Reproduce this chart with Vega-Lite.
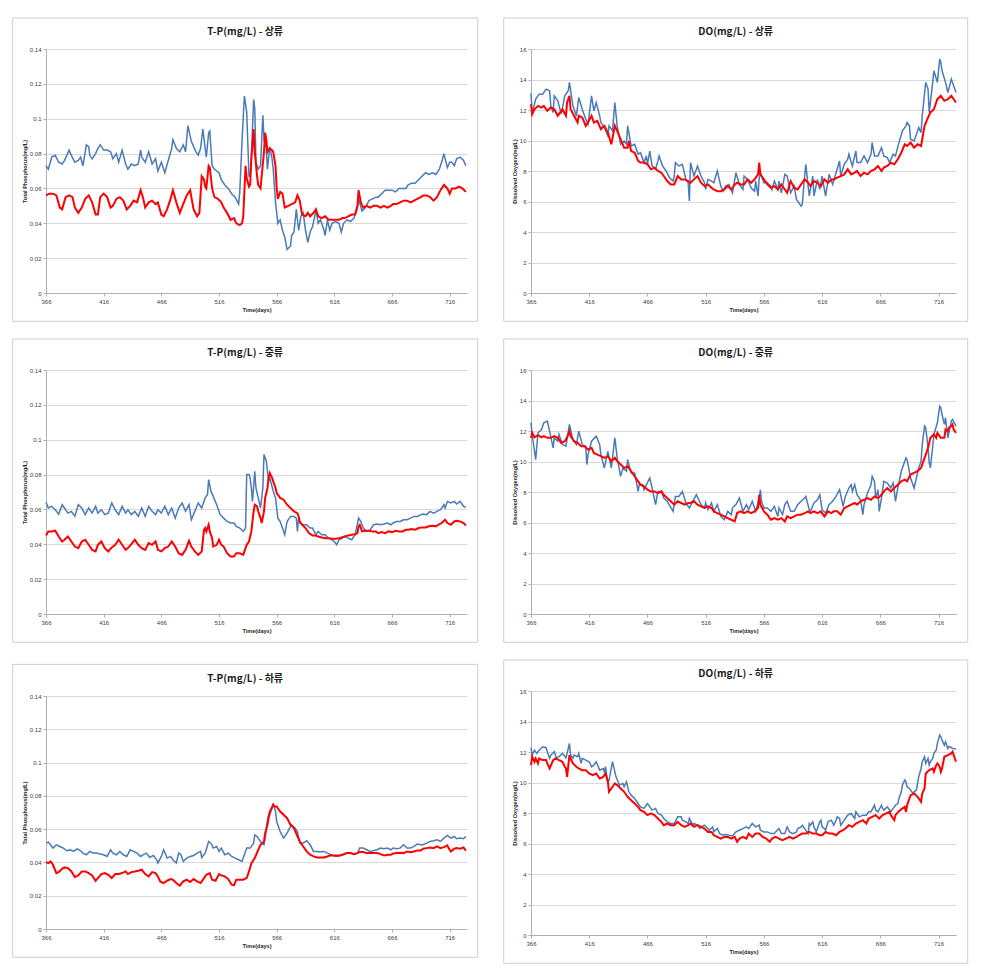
{
"$schema": "https://vega.github.io/schema/vega-lite/v6.json",
"padding": {"left": 12, "top": 17, "right": 5, "bottom": 5},
"background": "white",
"config": {
  "view": {"stroke": null},
  "font": "Liberation Sans",
  "axis": {"labelFont": "Liberation Sans", "labelFontSize": 6, "labelColor": "#404040", "titleFont": "Liberation Sans", "titleFontSize": 5.5, "titleFontWeight": "bold", "titleColor": "#262626", "domainColor": "#b0b0b0", "tickColor": "#b0b0b0", "tickSize": 3, "labelPadding": 2, "gridColor": "#d9d9d9", "labelFlush": false},
  "axisX": {"grid": false, "titlePadding": 3, "labelAngle": 0},
  "axisY": {"grid": true, "titlePadding": 1.5},
  "title": {"font": "Noto Sans CJK KR", "fontSize": 10, "fontWeight": "bold", "color": "#1a1a1a", "offset": -20, "anchor": "middle", "frame": "bounds"}
},
"datasets": {
"tpUpObs": [{"t":366,"v":0.073},{"t":368,"v":0.071},{"t":371,"v":0.078},{"t":374,"v":0.079},{"t":377,"v":0.075},{"t":380,"v":0.074},{"t":382,"v":0.076},{"t":386,"v":0.082},{"t":388,"v":0.079},{"t":391,"v":0.075},{"t":394,"v":0.076},{"t":396,"v":0.078},{"t":398,"v":0.073},{"t":401,"v":0.085},{"t":403,"v":0.084},{"t":404,"v":0.079},{"t":406,"v":0.077},{"t":409,"v":0.080},{"t":411,"v":0.083},{"t":413,"v":0.085},{"t":416,"v":0.082},{"t":419,"v":0.082},{"t":422,"v":0.081},{"t":424,"v":0.077},{"t":427,"v":0.080},{"t":429,"v":0.075},{"t":432,"v":0.082},{"t":435,"v":0.074},{"t":437,"v":0.071},{"t":440,"v":0.074},{"t":443,"v":0.073},{"t":446,"v":0.074},{"t":448,"v":0.082},{"t":449,"v":0.078},{"t":452,"v":0.075},{"t":455,"v":0.081},{"t":458,"v":0.074},{"t":461,"v":0.077},{"t":463,"v":0.070},{"t":466,"v":0.075},{"t":469,"v":0.069},{"t":472,"v":0.076},{"t":475,"v":0.083},{"t":476,"v":0.088},{"t":479,"v":0.083},{"t":482,"v":0.081},{"t":485,"v":0.085},{"t":487,"v":0.081},{"t":489,"v":0.096},{"t":492,"v":0.087},{"t":494,"v":0.084},{"t":496,"v":0.081},{"t":498,"v":0.079},{"t":500,"v":0.083},{"t":502,"v":0.094},{"t":504,"v":0.083},{"t":505,"v":0.078},{"t":507,"v":0.092},{"t":508,"v":0.093},{"t":510,"v":0.073},{"t":512,"v":0.071},{"t":516,"v":0.069},{"t":518,"v":0.065},{"t":521,"v":0.062},{"t":524,"v":0.060},{"t":527,"v":0.057},{"t":530,"v":0.055},{"t":533,"v":0.051},{"t":534,"v":0.058},{"t":536,"v":0.088},{"t":538,"v":0.113},{"t":540,"v":0.104},{"t":542,"v":0.067},{"t":543,"v":0.067},{"t":544,"v":0.077},{"t":546,"v":0.111},{"t":547,"v":0.106},{"t":548,"v":0.075},{"t":550,"v":0.071},{"t":552,"v":0.073},{"t":554,"v":0.102},{"t":555,"v":0.088},{"t":557,"v":0.083},{"t":558,"v":0.071},{"t":560,"v":0.084},{"t":562,"v":0.077},{"t":563,"v":0.071},{"t":565,"v":0.052},{"t":567,"v":0.040},{"t":569,"v":0.042},{"t":571,"v":0.036},{"t":573,"v":0.032},{"t":575,"v":0.025},{"t":578,"v":0.027},{"t":579,"v":0.033},{"t":581,"v":0.035},{"t":583,"v":0.048},{"t":585,"v":0.036},{"t":587,"v":0.044},{"t":589,"v":0.046},{"t":591,"v":0.036},{"t":593,"v":0.029},{"t":595,"v":0.035},{"t":597,"v":0.038},{"t":599,"v":0.044},{"t":600,"v":0.048},{"t":602,"v":0.040},{"t":604,"v":0.042},{"t":607,"v":0.036},{"t":608,"v":0.033},{"t":610,"v":0.042},{"t":612,"v":0.036},{"t":614,"v":0.040},{"t":617,"v":0.041},{"t":620,"v":0.040},{"t":622,"v":0.035},{"t":624,"v":0.040},{"t":627,"v":0.042},{"t":630,"v":0.041},{"t":633,"v":0.043},{"t":636,"v":0.049},{"t":637,"v":0.054},{"t":640,"v":0.047},{"t":643,"v":0.049},{"t":646,"v":0.053},{"t":649,"v":0.054},{"t":652,"v":0.055},{"t":654,"v":0.055},{"t":657,"v":0.057},{"t":660,"v":0.059},{"t":663,"v":0.059},{"t":666,"v":0.059},{"t":669,"v":0.058},{"t":672,"v":0.060},{"t":675,"v":0.060},{"t":678,"v":0.060},{"t":680,"v":0.062},{"t":683,"v":0.063},{"t":686,"v":0.063},{"t":689,"v":0.065},{"t":692,"v":0.067},{"t":695,"v":0.069},{"t":698,"v":0.068},{"t":701,"v":0.069},{"t":704,"v":0.068},{"t":707,"v":0.071},{"t":709,"v":0.075},{"t":711,"v":0.080},{"t":712,"v":0.077},{"t":714,"v":0.072},{"t":716,"v":0.075},{"t":718,"v":0.075},{"t":720,"v":0.073},{"t":722,"v":0.077},{"t":725,"v":0.078},{"t":728,"v":0.076},{"t":730,"v":0.073}],
"tpUpSim": [{"t":366,"v":0.056},{"t":369,"v":0.057},{"t":372,"v":0.057},{"t":375,"v":0.056},{"t":378,"v":0.049},{"t":380,"v":0.048},{"t":383,"v":0.055},{"t":386,"v":0.056},{"t":389,"v":0.055},{"t":391,"v":0.049},{"t":394,"v":0.046},{"t":397,"v":0.049},{"t":400,"v":0.054},{"t":403,"v":0.056},{"t":406,"v":0.052},{"t":409,"v":0.045},{"t":411,"v":0.045},{"t":413,"v":0.055},{"t":416,"v":0.057},{"t":419,"v":0.055},{"t":422,"v":0.049},{"t":424,"v":0.050},{"t":427,"v":0.054},{"t":430,"v":0.055},{"t":433,"v":0.053},{"t":436,"v":0.048},{"t":439,"v":0.050},{"t":442,"v":0.053},{"t":445,"v":0.052},{"t":448,"v":0.059},{"t":450,"v":0.055},{"t":452,"v":0.049},{"t":455,"v":0.052},{"t":458,"v":0.053},{"t":461,"v":0.051},{"t":463,"v":0.052},{"t":466,"v":0.045},{"t":468,"v":0.044},{"t":471,"v":0.048},{"t":474,"v":0.054},{"t":476,"v":0.059},{"t":479,"v":0.052},{"t":482,"v":0.046},{"t":485,"v":0.051},{"t":488,"v":0.056},{"t":491,"v":0.059},{"t":492,"v":0.055},{"t":494,"v":0.048},{"t":497,"v":0.044},{"t":499,"v":0.046},{"t":501,"v":0.067},{"t":503,"v":0.065},{"t":504,"v":0.061},{"t":505,"v":0.060},{"t":507,"v":0.073},{"t":508,"v":0.072},{"t":510,"v":0.060},{"t":512,"v":0.055},{"t":515,"v":0.054},{"t":518,"v":0.052},{"t":520,"v":0.049},{"t":523,"v":0.046},{"t":526,"v":0.042},{"t":529,"v":0.043},{"t":531,"v":0.040},{"t":534,"v":0.039},{"t":536,"v":0.040},{"t":537,"v":0.044},{"t":539,"v":0.073},{"t":540,"v":0.066},{"t":542,"v":0.061},{"t":543,"v":0.062},{"t":544,"v":0.077},{"t":546,"v":0.094},{"t":547,"v":0.081},{"t":549,"v":0.067},{"t":550,"v":0.062},{"t":552,"v":0.060},{"t":553,"v":0.067},{"t":555,"v":0.081},{"t":556,"v":0.092},{"t":557,"v":0.088},{"t":558,"v":0.081},{"t":560,"v":0.083},{"t":562,"v":0.082},{"t":563,"v":0.081},{"t":565,"v":0.073},{"t":566,"v":0.060},{"t":567,"v":0.054},{"t":569,"v":0.058},{"t":571,"v":0.057},{"t":573,"v":0.049},{"t":576,"v":0.050},{"t":579,"v":0.051},{"t":582,"v":0.052},{"t":584,"v":0.056},{"t":586,"v":0.053},{"t":588,"v":0.045},{"t":591,"v":0.044},{"t":593,"v":0.046},{"t":595,"v":0.044},{"t":598,"v":0.046},{"t":600,"v":0.048},{"t":602,"v":0.044},{"t":605,"v":0.043},{"t":608,"v":0.044},{"t":611,"v":0.042},{"t":614,"v":0.042},{"t":617,"v":0.042},{"t":620,"v":0.042},{"t":623,"v":0.043},{"t":625,"v":0.043},{"t":628,"v":0.044},{"t":631,"v":0.045},{"t":634,"v":0.045},{"t":636,"v":0.050},{"t":637,"v":0.059},{"t":639,"v":0.052},{"t":641,"v":0.049},{"t":644,"v":0.050},{"t":647,"v":0.049},{"t":650,"v":0.050},{"t":653,"v":0.050},{"t":656,"v":0.049},{"t":659,"v":0.050},{"t":662,"v":0.049},{"t":665,"v":0.050},{"t":667,"v":0.051},{"t":670,"v":0.051},{"t":673,"v":0.052},{"t":676,"v":0.053},{"t":679,"v":0.053},{"t":682,"v":0.052},{"t":685,"v":0.053},{"t":688,"v":0.054},{"t":691,"v":0.055},{"t":693,"v":0.056},{"t":696,"v":0.056},{"t":699,"v":0.055},{"t":702,"v":0.053},{"t":705,"v":0.055},{"t":708,"v":0.059},{"t":711,"v":0.062},{"t":714,"v":0.060},{"t":716,"v":0.057},{"t":718,"v":0.060},{"t":721,"v":0.060},{"t":724,"v":0.061},{"t":727,"v":0.060},{"t":730,"v":0.058}],
"doUpObs": [{"t":366,"v":13.10},{"t":367,"v":11.73},{"t":370,"v":12.71},{"t":373,"v":13.04},{"t":376,"v":13.04},{"t":379,"v":13.37},{"t":382,"v":13.26},{"t":383,"v":12.27},{"t":385,"v":11.84},{"t":386,"v":12.93},{"t":389,"v":12.60},{"t":392,"v":11.73},{"t":395,"v":12.93},{"t":398,"v":13.26},{"t":399,"v":13.81},{"t":402,"v":12.27},{"t":405,"v":11.62},{"t":407,"v":12.82},{"t":410,"v":12.05},{"t":413,"v":11.40},{"t":415,"v":11.07},{"t":418,"v":12.93},{"t":420,"v":11.95},{"t":422,"v":12.49},{"t":425,"v":11.62},{"t":426,"v":11.18},{"t":429,"v":10.85},{"t":432,"v":10.30},{"t":433,"v":10.96},{"t":436,"v":10.63},{"t":438,"v":12.49},{"t":440,"v":10.96},{"t":443,"v":9.75},{"t":446,"v":9.97},{"t":448,"v":9.75},{"t":449,"v":10.96},{"t":452,"v":9.64},{"t":455,"v":9.75},{"t":458,"v":9.10},{"t":460,"v":9.20},{"t":463,"v":8.55},{"t":465,"v":8.99},{"t":466,"v":8.44},{"t":468,"v":9.31},{"t":470,"v":8.33},{"t":473,"v":8.11},{"t":475,"v":8.66},{"t":476,"v":8.99},{"t":479,"v":8.33},{"t":482,"v":8.00},{"t":485,"v":7.56},{"t":488,"v":7.34},{"t":489,"v":7.67},{"t":490,"v":8.55},{"t":493,"v":8.33},{"t":496,"v":8.44},{"t":499,"v":7.45},{"t":501,"v":7.23},{"t":502,"v":6.03},{"t":503,"v":8.55},{"t":506,"v":7.67},{"t":509,"v":8.33},{"t":512,"v":7.67},{"t":515,"v":7.23},{"t":516,"v":6.79},{"t":518,"v":7.45},{"t":521,"v":7.34},{"t":523,"v":7.23},{"t":526,"v":8.00},{"t":529,"v":7.01},{"t":531,"v":6.68},{"t":533,"v":7.01},{"t":536,"v":7.12},{"t":539,"v":6.57},{"t":542,"v":7.89},{"t":545,"v":7.12},{"t":548,"v":6.79},{"t":549,"v":7.67},{"t":552,"v":7.45},{"t":555,"v":6.90},{"t":558,"v":6.68},{"t":559,"v":7.34},{"t":561,"v":6.36},{"t":562,"v":7.56},{"t":563,"v":7.89},{"t":566,"v":7.23},{"t":569,"v":7.23},{"t":572,"v":7.01},{"t":573,"v":6.79},{"t":575,"v":7.34},{"t":578,"v":6.79},{"t":579,"v":7.34},{"t":581,"v":6.57},{"t":584,"v":7.78},{"t":586,"v":7.67},{"t":589,"v":6.57},{"t":592,"v":7.01},{"t":594,"v":6.14},{"t":596,"v":5.92},{"t":598,"v":5.70},{"t":599,"v":5.81},{"t":601,"v":7.67},{"t":602,"v":8.44},{"t":604,"v":7.01},{"t":605,"v":6.36},{"t":608,"v":7.67},{"t":609,"v":6.36},{"t":612,"v":7.45},{"t":614,"v":6.79},{"t":616,"v":7.67},{"t":619,"v":6.36},{"t":622,"v":7.78},{"t":625,"v":7.12},{"t":628,"v":7.89},{"t":631,"v":8.66},{"t":632,"v":7.67},{"t":635,"v":8.44},{"t":638,"v":8.77},{"t":639,"v":9.10},{"t":642,"v":8.33},{"t":645,"v":9.31},{"t":646,"v":8.55},{"t":649,"v":8.55},{"t":652,"v":8.99},{"t":655,"v":8.55},{"t":658,"v":9.10},{"t":659,"v":9.86},{"t":661,"v":8.99},{"t":664,"v":8.99},{"t":667,"v":9.53},{"t":669,"v":8.99},{"t":672,"v":8.88},{"t":674,"v":8.55},{"t":677,"v":9.10},{"t":679,"v":8.99},{"t":682,"v":9.86},{"t":685,"v":10.63},{"t":688,"v":10.96},{"t":689,"v":11.18},{"t":691,"v":10.96},{"t":692,"v":10.08},{"t":695,"v":9.97},{"t":698,"v":10.63},{"t":699,"v":10.85},{"t":701,"v":10.52},{"t":702,"v":11.62},{"t":705,"v":13.81},{"t":707,"v":13.37},{"t":708,"v":11.84},{"t":711,"v":13.81},{"t":712,"v":14.57},{"t":715,"v":13.81},{"t":717,"v":15.34},{"t":718,"v":15.12},{"t":719,"v":14.57},{"t":722,"v":13.81},{"t":724,"v":13.15},{"t":727,"v":14.03},{"t":728,"v":13.81},{"t":731,"v":13.15}],
"doUpSim": [{"t":366,"v":12.38},{"t":367,"v":11.73},{"t":369,"v":12.05},{"t":372,"v":12.27},{"t":375,"v":12.16},{"t":377,"v":12.27},{"t":380,"v":11.95},{"t":383,"v":12.16},{"t":386,"v":12.05},{"t":389,"v":11.62},{"t":390,"v":11.73},{"t":393,"v":12.05},{"t":396,"v":11.62},{"t":397,"v":12.49},{"t":399,"v":12.93},{"t":400,"v":12.05},{"t":403,"v":11.62},{"t":406,"v":11.18},{"t":407,"v":11.62},{"t":410,"v":11.51},{"t":413,"v":10.96},{"t":415,"v":11.18},{"t":418,"v":11.62},{"t":420,"v":11.18},{"t":423,"v":11.29},{"t":426,"v":10.74},{"t":429,"v":10.96},{"t":432,"v":10.52},{"t":435,"v":9.75},{"t":438,"v":10.96},{"t":440,"v":10.63},{"t":443,"v":10.08},{"t":446,"v":9.53},{"t":449,"v":9.53},{"t":450,"v":9.97},{"t":452,"v":9.31},{"t":455,"v":9.20},{"t":458,"v":8.66},{"t":460,"v":8.55},{"t":463,"v":8.55},{"t":466,"v":8.44},{"t":469,"v":8.11},{"t":472,"v":8.22},{"t":475,"v":8.00},{"t":478,"v":7.89},{"t":480,"v":7.67},{"t":483,"v":7.34},{"t":486,"v":7.12},{"t":489,"v":7.12},{"t":492,"v":7.67},{"t":495,"v":7.45},{"t":498,"v":7.45},{"t":501,"v":7.34},{"t":503,"v":7.23},{"t":506,"v":7.45},{"t":509,"v":7.67},{"t":512,"v":7.23},{"t":515,"v":7.01},{"t":518,"v":7.12},{"t":521,"v":6.90},{"t":523,"v":6.79},{"t":526,"v":6.68},{"t":529,"v":6.68},{"t":532,"v":6.79},{"t":535,"v":7.01},{"t":538,"v":6.79},{"t":541,"v":7.12},{"t":543,"v":7.23},{"t":546,"v":7.12},{"t":549,"v":7.12},{"t":552,"v":7.45},{"t":555,"v":7.23},{"t":558,"v":7.45},{"t":561,"v":7.78},{"t":562,"v":8.55},{"t":563,"v":7.78},{"t":566,"v":7.45},{"t":569,"v":7.12},{"t":572,"v":6.90},{"t":575,"v":7.01},{"t":578,"v":6.79},{"t":581,"v":7.12},{"t":584,"v":6.79},{"t":586,"v":6.57},{"t":589,"v":7.34},{"t":592,"v":6.90},{"t":595,"v":6.79},{"t":598,"v":7.12},{"t":601,"v":7.45},{"t":604,"v":7.23},{"t":606,"v":7.01},{"t":609,"v":7.34},{"t":612,"v":7.23},{"t":615,"v":7.01},{"t":618,"v":7.45},{"t":621,"v":7.23},{"t":624,"v":7.45},{"t":626,"v":7.45},{"t":629,"v":7.56},{"t":632,"v":7.67},{"t":635,"v":7.78},{"t":638,"v":8.11},{"t":641,"v":7.78},{"t":644,"v":7.89},{"t":646,"v":8.00},{"t":649,"v":7.67},{"t":652,"v":7.89},{"t":655,"v":7.78},{"t":658,"v":8.00},{"t":661,"v":8.11},{"t":664,"v":8.33},{"t":667,"v":8.00},{"t":669,"v":8.22},{"t":672,"v":8.33},{"t":675,"v":8.55},{"t":678,"v":8.44},{"t":681,"v":8.77},{"t":684,"v":9.20},{"t":687,"v":9.75},{"t":689,"v":9.64},{"t":692,"v":9.86},{"t":695,"v":9.53},{"t":698,"v":9.75},{"t":701,"v":9.64},{"t":702,"v":10.08},{"t":704,"v":10.96},{"t":707,"v":11.51},{"t":709,"v":11.84},{"t":712,"v":12.05},{"t":715,"v":12.71},{"t":718,"v":12.93},{"t":721,"v":12.60},{"t":724,"v":12.71},{"t":727,"v":12.93},{"t":728,"v":12.82},{"t":731,"v":12.49}],
"tpMidObs": [{"t":366,"v":0.0641},{"t":368,"v":0.0608},{"t":371,"v":0.0618},{"t":374,"v":0.0598},{"t":377,"v":0.0573},{"t":380,"v":0.0627},{"t":382,"v":0.0608},{"t":385,"v":0.0579},{"t":388,"v":0.0589},{"t":391,"v":0.056},{"t":394,"v":0.0627},{"t":397,"v":0.0608},{"t":400,"v":0.057},{"t":403,"v":0.0608},{"t":406,"v":0.0579},{"t":409,"v":0.0618},{"t":411,"v":0.0579},{"t":414,"v":0.0598},{"t":417,"v":0.057},{"t":420,"v":0.0579},{"t":423,"v":0.0637},{"t":426,"v":0.0598},{"t":429,"v":0.057},{"t":432,"v":0.0618},{"t":435,"v":0.0579},{"t":437,"v":0.0598},{"t":440,"v":0.057},{"t":443,"v":0.0589},{"t":446,"v":0.056},{"t":449,"v":0.0608},{"t":452,"v":0.056},{"t":455,"v":0.0618},{"t":458,"v":0.0589},{"t":461,"v":0.057},{"t":463,"v":0.0598},{"t":466,"v":0.0579},{"t":469,"v":0.0618},{"t":472,"v":0.057},{"t":475,"v":0.0608},{"t":478,"v":0.055},{"t":481,"v":0.0608},{"t":484,"v":0.0637},{"t":487,"v":0.0589},{"t":490,"v":0.0627},{"t":492,"v":0.0541},{"t":495,"v":0.0589},{"t":498,"v":0.0637},{"t":501,"v":0.0608},{"t":504,"v":0.0666},{"t":506,"v":0.0685},{"t":507,"v":0.0771},{"t":509,"v":0.0704},{"t":511,"v":0.0675},{"t":514,"v":0.0627},{"t":517,"v":0.057},{"t":520,"v":0.055},{"t":523,"v":0.0531},{"t":526,"v":0.0522},{"t":529,"v":0.0522},{"t":531,"v":0.0503},{"t":534,"v":0.0493},{"t":537,"v":0.0474},{"t":539,"v":0.0493},{"t":540,"v":0.08},{"t":542,"v":0.08},{"t":543,"v":0.0781},{"t":544,"v":0.0723},{"t":545,"v":0.0646},{"t":547,"v":0.0819},{"t":548,"v":0.0723},{"t":550,"v":0.0666},{"t":552,"v":0.0608},{"t":554,"v":0.0723},{"t":555,"v":0.0915},{"t":557,"v":0.0877},{"t":559,"v":0.0761},{"t":560,"v":0.0781},{"t":563,"v":0.0704},{"t":565,"v":0.0666},{"t":567,"v":0.055},{"t":569,"v":0.0531},{"t":571,"v":0.0493},{"t":573,"v":0.0455},{"t":575,"v":0.0531},{"t":578,"v":0.056},{"t":581,"v":0.056},{"t":583,"v":0.055},{"t":584,"v":0.0474},{"t":585,"v":0.055},{"t":586,"v":0.0522},{"t":589,"v":0.0512},{"t":592,"v":0.0512},{"t":595,"v":0.0493},{"t":597,"v":0.0493},{"t":600,"v":0.0455},{"t":602,"v":0.0474},{"t":605,"v":0.0455},{"t":608,"v":0.0455},{"t":611,"v":0.0435},{"t":614,"v":0.0426},{"t":617,"v":0.0407},{"t":618,"v":0.0397},{"t":620,"v":0.0426},{"t":623,"v":0.0435},{"t":625,"v":0.0445},{"t":628,"v":0.0435},{"t":631,"v":0.0426},{"t":634,"v":0.0455},{"t":637,"v":0.055},{"t":639,"v":0.0531},{"t":641,"v":0.0493},{"t":644,"v":0.0474},{"t":647,"v":0.0483},{"t":650,"v":0.0512},{"t":653,"v":0.0516},{"t":656,"v":0.0512},{"t":659,"v":0.0516},{"t":662,"v":0.0522},{"t":665,"v":0.0512},{"t":667,"v":0.0522},{"t":670,"v":0.0531},{"t":673,"v":0.0531},{"t":676,"v":0.0541},{"t":679,"v":0.0541},{"t":682,"v":0.055},{"t":685,"v":0.056},{"t":688,"v":0.056},{"t":691,"v":0.057},{"t":693,"v":0.0573},{"t":696,"v":0.057},{"t":699,"v":0.0589},{"t":702,"v":0.0579},{"t":705,"v":0.0589},{"t":708,"v":0.0598},{"t":711,"v":0.0627},{"t":712,"v":0.0608},{"t":714,"v":0.0646},{"t":717,"v":0.0637},{"t":720,"v":0.0646},{"t":722,"v":0.0631},{"t":725,"v":0.0646},{"t":728,"v":0.0618},{"t":730,"v":0.0612}],
"tpMidSim": [{"t":366,"v":0.0451},{"t":368,"v":0.0474},{"t":371,"v":0.0474},{"t":374,"v":0.0478},{"t":377,"v":0.0445},{"t":380,"v":0.0416},{"t":382,"v":0.0426},{"t":385,"v":0.0445},{"t":388,"v":0.0416},{"t":391,"v":0.0387},{"t":394,"v":0.0378},{"t":397,"v":0.0416},{"t":400,"v":0.0426},{"t":403,"v":0.0397},{"t":406,"v":0.0368},{"t":409,"v":0.0359},{"t":411,"v":0.0397},{"t":414,"v":0.0416},{"t":417,"v":0.0378},{"t":420,"v":0.0359},{"t":423,"v":0.0382},{"t":426,"v":0.0397},{"t":429,"v":0.0426},{"t":432,"v":0.0397},{"t":435,"v":0.0368},{"t":437,"v":0.0378},{"t":440,"v":0.0401},{"t":443,"v":0.0426},{"t":446,"v":0.0397},{"t":449,"v":0.0378},{"t":452,"v":0.0368},{"t":455,"v":0.0407},{"t":458,"v":0.0397},{"t":461,"v":0.0416},{"t":463,"v":0.0368},{"t":466,"v":0.0359},{"t":469,"v":0.0378},{"t":472,"v":0.0387},{"t":475,"v":0.0416},{"t":478,"v":0.0387},{"t":481,"v":0.0349},{"t":484,"v":0.0339},{"t":487,"v":0.0368},{"t":490,"v":0.042},{"t":492,"v":0.0387},{"t":495,"v":0.0359},{"t":498,"v":0.0339},{"t":501,"v":0.0359},{"t":503,"v":0.0483},{"t":504,"v":0.0493},{"t":505,"v":0.0474},{"t":507,"v":0.0512},{"t":508,"v":0.0474},{"t":510,"v":0.0435},{"t":511,"v":0.0387},{"t":514,"v":0.0397},{"t":516,"v":0.0426},{"t":518,"v":0.0397},{"t":520,"v":0.0387},{"t":523,"v":0.0349},{"t":526,"v":0.033},{"t":529,"v":0.033},{"t":531,"v":0.0349},{"t":534,"v":0.0349},{"t":537,"v":0.0339},{"t":539,"v":0.0378},{"t":540,"v":0.0397},{"t":542,"v":0.0416},{"t":544,"v":0.0474},{"t":546,"v":0.0589},{"t":547,"v":0.0627},{"t":549,"v":0.0618},{"t":550,"v":0.0589},{"t":552,"v":0.055},{"t":553,"v":0.0522},{"t":555,"v":0.0589},{"t":556,"v":0.0666},{"t":558,"v":0.0723},{"t":559,"v":0.0781},{"t":560,"v":0.0809},{"t":562,"v":0.0781},{"t":563,"v":0.0761},{"t":565,"v":0.0723},{"t":566,"v":0.0694},{"t":569,"v":0.0666},{"t":572,"v":0.0656},{"t":575,"v":0.0627},{"t":578,"v":0.0608},{"t":581,"v":0.0589},{"t":584,"v":0.0579},{"t":585,"v":0.056},{"t":586,"v":0.0531},{"t":588,"v":0.0512},{"t":591,"v":0.0493},{"t":594,"v":0.0464},{"t":597,"v":0.0451},{"t":599,"v":0.0451},{"t":602,"v":0.0445},{"t":605,"v":0.0439},{"t":608,"v":0.0435},{"t":611,"v":0.0435},{"t":614,"v":0.0432},{"t":617,"v":0.0432},{"t":620,"v":0.0435},{"t":623,"v":0.0441},{"t":625,"v":0.0445},{"t":628,"v":0.0451},{"t":631,"v":0.0455},{"t":634,"v":0.0458},{"t":636,"v":0.0464},{"t":637,"v":0.0503},{"t":638,"v":0.0512},{"t":640,"v":0.0474},{"t":643,"v":0.0478},{"t":646,"v":0.0478},{"t":649,"v":0.0474},{"t":652,"v":0.0474},{"t":654,"v":0.0464},{"t":657,"v":0.047},{"t":660,"v":0.0464},{"t":663,"v":0.0474},{"t":666,"v":0.047},{"t":669,"v":0.0478},{"t":672,"v":0.0474},{"t":675,"v":0.0474},{"t":678,"v":0.0483},{"t":680,"v":0.0483},{"t":683,"v":0.0487},{"t":686,"v":0.0483},{"t":689,"v":0.0493},{"t":692,"v":0.0497},{"t":695,"v":0.0497},{"t":698,"v":0.0503},{"t":701,"v":0.0506},{"t":704,"v":0.0503},{"t":706,"v":0.0512},{"t":709,"v":0.0522},{"t":712,"v":0.0541},{"t":714,"v":0.0522},{"t":717,"v":0.0512},{"t":720,"v":0.0531},{"t":722,"v":0.0535},{"t":725,"v":0.0531},{"t":728,"v":0.0522},{"t":730,"v":0.0508}],
"doMidObs": [{"t":366,"v":12.54},{"t":367,"v":11.77},{"t":370,"v":10.12},{"t":372,"v":11.88},{"t":375,"v":12.10},{"t":377,"v":12.54},{"t":380,"v":12.65},{"t":382,"v":11.99},{"t":385,"v":10.89},{"t":386,"v":11.55},{"t":389,"v":11.33},{"t":390,"v":11.77},{"t":393,"v":11.11},{"t":396,"v":11.00},{"t":399,"v":12.43},{"t":402,"v":11.44},{"t":405,"v":11.11},{"t":407,"v":11.99},{"t":410,"v":11.11},{"t":413,"v":11.00},{"t":414,"v":9.80},{"t":415,"v":10.45},{"t":418,"v":11.33},{"t":422,"v":11.66},{"t":425,"v":11.11},{"t":426,"v":10.45},{"t":429,"v":9.58},{"t":432,"v":10.67},{"t":435,"v":9.58},{"t":438,"v":11.55},{"t":440,"v":10.24},{"t":443,"v":9.03},{"t":445,"v":9.58},{"t":448,"v":9.36},{"t":449,"v":10.12},{"t":452,"v":9.25},{"t":455,"v":9.25},{"t":458,"v":8.04},{"t":459,"v":8.48},{"t":462,"v":8.48},{"t":463,"v":8.15},{"t":468,"v":8.92},{"t":470,"v":8.26},{"t":473,"v":7.17},{"t":475,"v":8.04},{"t":478,"v":8.04},{"t":480,"v":7.60},{"t":483,"v":7.39},{"t":488,"v":6.73},{"t":490,"v":7.71},{"t":493,"v":7.71},{"t":496,"v":8.04},{"t":499,"v":7.28},{"t":502,"v":6.95},{"t":505,"v":7.39},{"t":508,"v":7.82},{"t":512,"v":7.17},{"t":515,"v":6.95},{"t":516,"v":7.28},{"t":518,"v":6.84},{"t":521,"v":7.28},{"t":523,"v":6.73},{"t":526,"v":7.17},{"t":529,"v":6.40},{"t":532,"v":6.18},{"t":535,"v":6.73},{"t":538,"v":6.51},{"t":539,"v":6.95},{"t":542,"v":7.17},{"t":545,"v":7.60},{"t":548,"v":6.73},{"t":551,"v":7.17},{"t":553,"v":6.84},{"t":556,"v":7.39},{"t":559,"v":6.73},{"t":562,"v":7.60},{"t":563,"v":8.15},{"t":564,"v":7.39},{"t":566,"v":6.95},{"t":569,"v":6.95},{"t":572,"v":6.73},{"t":575,"v":7.06},{"t":578,"v":6.40},{"t":579,"v":6.95},{"t":582,"v":6.51},{"t":584,"v":7.17},{"t":586,"v":7.39},{"t":589,"v":6.73},{"t":592,"v":6.73},{"t":595,"v":7.17},{"t":598,"v":7.39},{"t":601,"v":7.60},{"t":602,"v":7.71},{"t":605,"v":6.84},{"t":606,"v":6.73},{"t":609,"v":7.28},{"t":612,"v":7.49},{"t":614,"v":7.82},{"t":616,"v":6.84},{"t":619,"v":6.62},{"t":622,"v":7.17},{"t":625,"v":7.39},{"t":628,"v":7.71},{"t":631,"v":8.15},{"t":634,"v":7.06},{"t":636,"v":7.71},{"t":639,"v":8.26},{"t":641,"v":8.48},{"t":642,"v":8.04},{"t":644,"v":8.48},{"t":646,"v":7.82},{"t":649,"v":7.49},{"t":651,"v":6.51},{"t":652,"v":7.17},{"t":655,"v":7.93},{"t":658,"v":8.48},{"t":659,"v":9.03},{"t":661,"v":8.70},{"t":662,"v":7.60},{"t":664,"v":8.15},{"t":665,"v":6.73},{"t":667,"v":7.60},{"t":669,"v":8.70},{"t":672,"v":8.59},{"t":675,"v":8.26},{"t":677,"v":8.59},{"t":678,"v":8.04},{"t":679,"v":7.39},{"t":681,"v":8.26},{"t":684,"v":9.36},{"t":687,"v":10.02},{"t":688,"v":10.24},{"t":689,"v":10.12},{"t":692,"v":8.92},{"t":695,"v":8.26},{"t":697,"v":8.92},{"t":699,"v":9.58},{"t":701,"v":10.02},{"t":702,"v":11.11},{"t":704,"v":12.32},{"t":705,"v":12.21},{"t":707,"v":10.89},{"t":708,"v":9.91},{"t":709,"v":9.58},{"t":711,"v":11.00},{"t":712,"v":11.77},{"t":715,"v":12.54},{"t":717,"v":13.63},{"t":718,"v":13.52},{"t":719,"v":13.08},{"t":721,"v":12.43},{"t":722,"v":12.87},{"t":724,"v":11.55},{"t":727,"v":12.65},{"t":728,"v":12.76},{"t":731,"v":12.32}],
"doMidSim": [{"t":366,"v":11.55},{"t":367,"v":11.88},{"t":369,"v":11.59},{"t":372,"v":11.73},{"t":375,"v":11.59},{"t":377,"v":11.66},{"t":380,"v":11.55},{"t":383,"v":11.55},{"t":386,"v":11.66},{"t":389,"v":11.55},{"t":392,"v":11.22},{"t":395,"v":11.33},{"t":397,"v":11.59},{"t":399,"v":11.99},{"t":400,"v":11.66},{"t":403,"v":11.33},{"t":406,"v":11.22},{"t":409,"v":11.00},{"t":412,"v":11.00},{"t":415,"v":10.78},{"t":418,"v":10.89},{"t":420,"v":10.56},{"t":423,"v":10.45},{"t":426,"v":10.35},{"t":429,"v":10.24},{"t":432,"v":10.35},{"t":435,"v":10.02},{"t":438,"v":10.24},{"t":440,"v":10.02},{"t":443,"v":9.80},{"t":446,"v":9.58},{"t":449,"v":9.69},{"t":452,"v":9.36},{"t":455,"v":9.03},{"t":458,"v":8.70},{"t":460,"v":8.48},{"t":463,"v":8.37},{"t":466,"v":8.15},{"t":469,"v":8.04},{"t":472,"v":8.04},{"t":475,"v":7.93},{"t":478,"v":8.04},{"t":480,"v":7.82},{"t":483,"v":7.60},{"t":486,"v":7.39},{"t":489,"v":7.17},{"t":492,"v":7.39},{"t":495,"v":7.28},{"t":498,"v":7.17},{"t":501,"v":7.28},{"t":503,"v":7.28},{"t":506,"v":7.39},{"t":509,"v":7.17},{"t":512,"v":7.06},{"t":515,"v":6.95},{"t":518,"v":7.06},{"t":521,"v":6.95},{"t":523,"v":6.73},{"t":526,"v":6.62},{"t":529,"v":6.51},{"t":532,"v":6.40},{"t":535,"v":6.29},{"t":538,"v":6.18},{"t":541,"v":6.07},{"t":543,"v":6.62},{"t":546,"v":6.73},{"t":549,"v":6.62},{"t":552,"v":6.73},{"t":555,"v":6.62},{"t":558,"v":6.73},{"t":561,"v":6.95},{"t":562,"v":7.82},{"t":563,"v":7.17},{"t":566,"v":6.73},{"t":569,"v":6.51},{"t":572,"v":6.18},{"t":575,"v":6.29},{"t":578,"v":6.18},{"t":581,"v":6.29},{"t":584,"v":6.07},{"t":586,"v":6.40},{"t":589,"v":6.29},{"t":592,"v":6.40},{"t":595,"v":6.51},{"t":598,"v":6.51},{"t":601,"v":6.62},{"t":604,"v":6.73},{"t":606,"v":6.62},{"t":609,"v":6.73},{"t":612,"v":6.62},{"t":615,"v":6.73},{"t":618,"v":6.40},{"t":621,"v":6.73},{"t":624,"v":6.62},{"t":626,"v":6.73},{"t":629,"v":6.73},{"t":632,"v":6.51},{"t":635,"v":6.95},{"t":638,"v":7.06},{"t":641,"v":7.17},{"t":644,"v":7.28},{"t":646,"v":7.17},{"t":649,"v":7.39},{"t":652,"v":7.49},{"t":655,"v":7.60},{"t":658,"v":7.49},{"t":661,"v":7.71},{"t":664,"v":7.60},{"t":667,"v":7.82},{"t":669,"v":8.04},{"t":672,"v":8.26},{"t":675,"v":8.04},{"t":678,"v":8.26},{"t":681,"v":8.48},{"t":684,"v":8.70},{"t":687,"v":8.81},{"t":689,"v":8.70},{"t":692,"v":9.14},{"t":695,"v":9.25},{"t":698,"v":9.36},{"t":701,"v":9.58},{"t":704,"v":10.24},{"t":707,"v":10.89},{"t":709,"v":11.55},{"t":712,"v":11.77},{"t":714,"v":11.55},{"t":715,"v":11.88},{"t":718,"v":11.55},{"t":721,"v":11.55},{"t":722,"v":12.10},{"t":724,"v":11.99},{"t":725,"v":12.21},{"t":727,"v":12.32},{"t":728,"v":12.43},{"t":729,"v":12.10},{"t":731,"v":11.88}],
"tpDownObs": [{"t":366,"v":0.0516},{"t":368,"v":0.0522},{"t":370,"v":0.0506},{"t":372,"v":0.0486},{"t":375,"v":0.0506},{"t":378,"v":0.0496},{"t":381,"v":0.0486},{"t":384,"v":0.047},{"t":387,"v":0.0476},{"t":390,"v":0.0466},{"t":393,"v":0.0482},{"t":396,"v":0.047},{"t":398,"v":0.0456},{"t":401,"v":0.0446},{"t":404,"v":0.0466},{"t":407,"v":0.0456},{"t":410,"v":0.0456},{"t":413,"v":0.045},{"t":416,"v":0.0446},{"t":419,"v":0.0436},{"t":422,"v":0.0476},{"t":424,"v":0.0456},{"t":427,"v":0.0446},{"t":430,"v":0.0466},{"t":433,"v":0.0446},{"t":436,"v":0.0436},{"t":439,"v":0.0476},{"t":442,"v":0.0466},{"t":445,"v":0.0456},{"t":448,"v":0.0436},{"t":450,"v":0.0446},{"t":453,"v":0.0456},{"t":456,"v":0.043},{"t":459,"v":0.0442},{"t":462,"v":0.0416},{"t":463,"v":0.0396},{"t":466,"v":0.0436},{"t":468,"v":0.0476},{"t":471,"v":0.0426},{"t":474,"v":0.0436},{"t":476,"v":0.0416},{"t":479,"v":0.0396},{"t":481,"v":0.0456},{"t":483,"v":0.0446},{"t":485,"v":0.0406},{"t":488,"v":0.0426},{"t":491,"v":0.0436},{"t":494,"v":0.0442},{"t":497,"v":0.0456},{"t":500,"v":0.0466},{"t":501,"v":0.043},{"t":504,"v":0.0456},{"t":507,"v":0.0526},{"t":509,"v":0.0516},{"t":511,"v":0.0486},{"t":514,"v":0.0496},{"t":516,"v":0.0466},{"t":518,"v":0.0486},{"t":521,"v":0.0446},{"t":524,"v":0.0456},{"t":527,"v":0.0436},{"t":530,"v":0.0426},{"t":533,"v":0.0416},{"t":536,"v":0.0406},{"t":537,"v":0.0426},{"t":540,"v":0.0486},{"t":543,"v":0.0486},{"t":546,"v":0.0516},{"t":547,"v":0.0566},{"t":549,"v":0.0556},{"t":550,"v":0.0546},{"t":552,"v":0.0526},{"t":553,"v":0.0516},{"t":555,"v":0.0506},{"t":556,"v":0.0546},{"t":558,"v":0.0656},{"t":559,"v":0.0686},{"t":560,"v":0.0686},{"t":562,"v":0.0726},{"t":563,"v":0.0756},{"t":565,"v":0.0706},{"t":566,"v":0.0646},{"t":569,"v":0.0586},{"t":572,"v":0.0546},{"t":575,"v":0.0576},{"t":578,"v":0.0616},{"t":579,"v":0.0626},{"t":582,"v":0.0606},{"t":584,"v":0.0586},{"t":586,"v":0.0516},{"t":589,"v":0.0516},{"t":592,"v":0.053},{"t":595,"v":0.0506},{"t":598,"v":0.0466},{"t":601,"v":0.0466},{"t":604,"v":0.0462},{"t":607,"v":0.0466},{"t":610,"v":0.0456},{"t":612,"v":0.045},{"t":615,"v":0.0442},{"t":618,"v":0.0436},{"t":621,"v":0.0442},{"t":624,"v":0.0446},{"t":627,"v":0.0456},{"t":630,"v":0.0456},{"t":633,"v":0.045},{"t":636,"v":0.0456},{"t":638,"v":0.0486},{"t":641,"v":0.0486},{"t":644,"v":0.0476},{"t":647,"v":0.0466},{"t":650,"v":0.047},{"t":653,"v":0.0476},{"t":656,"v":0.0486},{"t":659,"v":0.0482},{"t":662,"v":0.0486},{"t":665,"v":0.0476},{"t":667,"v":0.0486},{"t":670,"v":0.0482},{"t":673,"v":0.0486},{"t":676,"v":0.0506},{"t":679,"v":0.0486},{"t":682,"v":0.0486},{"t":685,"v":0.0496},{"t":688,"v":0.051},{"t":691,"v":0.0506},{"t":693,"v":0.0506},{"t":696,"v":0.0516},{"t":699,"v":0.0526},{"t":702,"v":0.053},{"t":705,"v":0.0536},{"t":708,"v":0.0526},{"t":711,"v":0.0546},{"t":714,"v":0.0562},{"t":717,"v":0.0546},{"t":720,"v":0.0556},{"t":722,"v":0.0542},{"t":725,"v":0.0546},{"t":728,"v":0.0542},{"t":730,"v":0.0556}],
"tpDownSim": [{"t":366,"v":0.0402},{"t":368,"v":0.0396},{"t":370,"v":0.0406},{"t":372,"v":0.0386},{"t":375,"v":0.0336},{"t":377,"v":0.0342},{"t":380,"v":0.0362},{"t":382,"v":0.037},{"t":385,"v":0.0366},{"t":388,"v":0.0346},{"t":391,"v":0.0312},{"t":394,"v":0.0322},{"t":397,"v":0.0346},{"t":400,"v":0.0346},{"t":403,"v":0.0336},{"t":406,"v":0.0322},{"t":409,"v":0.029},{"t":411,"v":0.0306},{"t":414,"v":0.033},{"t":417,"v":0.0336},{"t":420,"v":0.0326},{"t":423,"v":0.0306},{"t":426,"v":0.033},{"t":429,"v":0.033},{"t":432,"v":0.0336},{"t":435,"v":0.0346},{"t":437,"v":0.033},{"t":440,"v":0.0342},{"t":443,"v":0.0346},{"t":446,"v":0.035},{"t":449,"v":0.0356},{"t":452,"v":0.033},{"t":455,"v":0.0316},{"t":458,"v":0.0342},{"t":461,"v":0.0336},{"t":463,"v":0.0316},{"t":465,"v":0.0286},{"t":468,"v":0.0276},{"t":471,"v":0.029},{"t":474,"v":0.03},{"t":476,"v":0.0296},{"t":479,"v":0.0276},{"t":482,"v":0.026},{"t":485,"v":0.0286},{"t":488,"v":0.0296},{"t":491,"v":0.0282},{"t":494,"v":0.03},{"t":497,"v":0.0286},{"t":500,"v":0.0276},{"t":503,"v":0.0306},{"t":505,"v":0.0326},{"t":508,"v":0.0336},{"t":510,"v":0.0296},{"t":513,"v":0.029},{"t":516,"v":0.033},{"t":518,"v":0.0322},{"t":521,"v":0.0316},{"t":524,"v":0.03},{"t":527,"v":0.0266},{"t":529,"v":0.0262},{"t":531,"v":0.0296},{"t":534,"v":0.0296},{"t":537,"v":0.0296},{"t":540,"v":0.0306},{"t":542,"v":0.0346},{"t":544,"v":0.0394},{"t":547,"v":0.0426},{"t":550,"v":0.0476},{"t":552,"v":0.0506},{"t":555,"v":0.0526},{"t":556,"v":0.0576},{"t":558,"v":0.0626},{"t":560,"v":0.0706},{"t":563,"v":0.0746},{"t":564,"v":0.0736},{"t":566,"v":0.0736},{"t":569,"v":0.0706},{"t":572,"v":0.0686},{"t":575,"v":0.0666},{"t":578,"v":0.0626},{"t":581,"v":0.0606},{"t":584,"v":0.0556},{"t":586,"v":0.0526},{"t":589,"v":0.0496},{"t":592,"v":0.0466},{"t":595,"v":0.0446},{"t":598,"v":0.0436},{"t":601,"v":0.043},{"t":604,"v":0.043},{"t":607,"v":0.043},{"t":610,"v":0.0436},{"t":612,"v":0.0442},{"t":615,"v":0.0442},{"t":618,"v":0.0442},{"t":621,"v":0.0442},{"t":624,"v":0.045},{"t":627,"v":0.0456},{"t":630,"v":0.0456},{"t":633,"v":0.045},{"t":636,"v":0.0456},{"t":638,"v":0.0462},{"t":641,"v":0.0462},{"t":644,"v":0.0456},{"t":647,"v":0.0456},{"t":650,"v":0.0456},{"t":653,"v":0.0456},{"t":656,"v":0.045},{"t":659,"v":0.0442},{"t":662,"v":0.0446},{"t":665,"v":0.0446},{"t":667,"v":0.0454},{"t":670,"v":0.0456},{"t":673,"v":0.0458},{"t":676,"v":0.0456},{"t":679,"v":0.0466},{"t":682,"v":0.0462},{"t":685,"v":0.0466},{"t":688,"v":0.0472},{"t":691,"v":0.0472},{"t":693,"v":0.0482},{"t":696,"v":0.0486},{"t":699,"v":0.049},{"t":702,"v":0.0486},{"t":705,"v":0.0496},{"t":708,"v":0.0486},{"t":711,"v":0.0492},{"t":714,"v":0.0502},{"t":715,"v":0.0486},{"t":717,"v":0.0466},{"t":720,"v":0.0482},{"t":722,"v":0.0486},{"t":725,"v":0.0482},{"t":728,"v":0.049},{"t":730,"v":0.047}],
"doDownObs": [{"t":366,"v":12.28},{"t":367,"v":11.80},{"t":369,"v":12.12},{"t":371,"v":11.91},{"t":373,"v":12.12},{"t":376,"v":12.34},{"t":379,"v":12.28},{"t":380,"v":12.02},{"t":382,"v":11.58},{"t":383,"v":11.80},{"t":386,"v":12.02},{"t":388,"v":11.58},{"t":390,"v":11.69},{"t":393,"v":11.91},{"t":396,"v":11.62},{"t":397,"v":11.91},{"t":399,"v":12.56},{"t":400,"v":11.80},{"t":402,"v":11.58},{"t":403,"v":11.80},{"t":406,"v":11.69},{"t":407,"v":11.91},{"t":409,"v":11.25},{"t":410,"v":11.58},{"t":413,"v":11.47},{"t":416,"v":11.36},{"t":418,"v":11.03},{"t":420,"v":11.14},{"t":422,"v":11.36},{"t":425,"v":10.81},{"t":428,"v":10.92},{"t":429,"v":10.70},{"t":430,"v":11.03},{"t":432,"v":9.94},{"t":433,"v":10.16},{"t":436,"v":11.36},{"t":439,"v":10.37},{"t":442,"v":9.83},{"t":445,"v":9.94},{"t":446,"v":9.72},{"t":448,"v":10.05},{"t":450,"v":9.39},{"t":452,"v":9.17},{"t":455,"v":8.95},{"t":458,"v":8.62},{"t":460,"v":8.40},{"t":463,"v":8.30},{"t":466,"v":8.62},{"t":469,"v":8.30},{"t":470,"v":8.19},{"t":473,"v":8.30},{"t":475,"v":7.97},{"t":478,"v":7.86},{"t":480,"v":7.64},{"t":483,"v":7.42},{"t":486,"v":7.31},{"t":489,"v":7.31},{"t":492,"v":7.75},{"t":495,"v":7.75},{"t":496,"v":7.53},{"t":499,"v":7.42},{"t":501,"v":7.31},{"t":502,"v":7.64},{"t":505,"v":7.20},{"t":506,"v":7.31},{"t":509,"v":7.20},{"t":511,"v":6.98},{"t":512,"v":7.09},{"t":515,"v":7.20},{"t":518,"v":6.98},{"t":519,"v":6.87},{"t":522,"v":7.09},{"t":523,"v":6.76},{"t":526,"v":6.98},{"t":528,"v":6.65},{"t":531,"v":6.54},{"t":533,"v":6.59},{"t":536,"v":6.54},{"t":539,"v":6.50},{"t":542,"v":6.76},{"t":545,"v":6.87},{"t":548,"v":6.98},{"t":551,"v":7.09},{"t":553,"v":6.98},{"t":556,"v":7.31},{"t":559,"v":7.09},{"t":562,"v":7.20},{"t":563,"v":6.87},{"t":566,"v":6.76},{"t":569,"v":6.76},{"t":572,"v":6.65},{"t":575,"v":6.65},{"t":576,"v":6.76},{"t":579,"v":6.98},{"t":581,"v":6.65},{"t":584,"v":6.65},{"t":586,"v":7.09},{"t":588,"v":6.76},{"t":591,"v":6.65},{"t":594,"v":6.76},{"t":595,"v":6.98},{"t":598,"v":7.09},{"t":599,"v":7.20},{"t":601,"v":6.98},{"t":604,"v":6.65},{"t":605,"v":7.31},{"t":606,"v":7.20},{"t":608,"v":7.42},{"t":609,"v":7.09},{"t":611,"v":6.76},{"t":612,"v":6.98},{"t":614,"v":7.42},{"t":615,"v":7.53},{"t":616,"v":7.09},{"t":618,"v":6.98},{"t":619,"v":6.87},{"t":621,"v":7.42},{"t":624,"v":7.53},{"t":626,"v":7.20},{"t":628,"v":7.53},{"t":629,"v":7.75},{"t":631,"v":7.64},{"t":632,"v":7.20},{"t":634,"v":7.42},{"t":635,"v":7.53},{"t":638,"v":7.86},{"t":641,"v":7.97},{"t":644,"v":7.64},{"t":645,"v":8.08},{"t":646,"v":7.97},{"t":648,"v":7.75},{"t":651,"v":7.86},{"t":654,"v":7.86},{"t":656,"v":8.08},{"t":658,"v":8.08},{"t":661,"v":8.51},{"t":662,"v":8.19},{"t":664,"v":8.08},{"t":667,"v":8.51},{"t":668,"v":8.30},{"t":669,"v":8.19},{"t":672,"v":8.40},{"t":675,"v":8.08},{"t":677,"v":8.30},{"t":679,"v":8.51},{"t":681,"v":8.62},{"t":682,"v":8.95},{"t":684,"v":9.39},{"t":685,"v":9.83},{"t":687,"v":10.16},{"t":688,"v":10.05},{"t":689,"v":9.72},{"t":691,"v":9.61},{"t":692,"v":9.50},{"t":694,"v":9.28},{"t":695,"v":9.39},{"t":697,"v":9.50},{"t":698,"v":9.94},{"t":699,"v":10.37},{"t":701,"v":10.92},{"t":702,"v":11.36},{"t":704,"v":11.69},{"t":705,"v":11.25},{"t":707,"v":11.58},{"t":708,"v":11.14},{"t":709,"v":11.36},{"t":711,"v":11.58},{"t":712,"v":11.91},{"t":714,"v":12.12},{"t":715,"v":12.56},{"t":717,"v":13.11},{"t":718,"v":13.00},{"t":719,"v":12.78},{"t":721,"v":12.45},{"t":722,"v":12.67},{"t":724,"v":12.23},{"t":725,"v":12.34},{"t":726,"v":12.34},{"t":728,"v":12.23},{"t":729,"v":12.23},{"t":731,"v":12.19}],
"doDownSim": [{"t":366,"v":11.14},{"t":367,"v":11.69},{"t":369,"v":11.36},{"t":370,"v":11.58},{"t":372,"v":11.25},{"t":373,"v":11.58},{"t":376,"v":11.47},{"t":379,"v":11.47},{"t":380,"v":11.25},{"t":382,"v":10.92},{"t":385,"v":11.47},{"t":387,"v":11.58},{"t":390,"v":11.47},{"t":393,"v":11.36},{"t":395,"v":11.03},{"t":396,"v":10.92},{"t":397,"v":10.37},{"t":399,"v":11.80},{"t":400,"v":11.58},{"t":402,"v":11.25},{"t":405,"v":11.03},{"t":407,"v":10.92},{"t":410,"v":10.81},{"t":413,"v":10.81},{"t":416,"v":10.59},{"t":419,"v":10.48},{"t":422,"v":10.59},{"t":425,"v":10.26},{"t":428,"v":10.37},{"t":430,"v":10.59},{"t":432,"v":10.05},{"t":433,"v":9.39},{"t":435,"v":9.61},{"t":438,"v":9.94},{"t":440,"v":9.83},{"t":443,"v":9.61},{"t":446,"v":9.39},{"t":449,"v":9.06},{"t":452,"v":8.84},{"t":455,"v":8.62},{"t":458,"v":8.40},{"t":460,"v":8.19},{"t":463,"v":8.08},{"t":466,"v":7.86},{"t":469,"v":7.97},{"t":472,"v":7.86},{"t":475,"v":7.64},{"t":478,"v":7.42},{"t":480,"v":7.20},{"t":483,"v":7.31},{"t":486,"v":7.20},{"t":489,"v":7.20},{"t":492,"v":7.42},{"t":495,"v":7.20},{"t":498,"v":7.09},{"t":501,"v":7.20},{"t":503,"v":7.31},{"t":506,"v":7.09},{"t":509,"v":7.20},{"t":512,"v":7.09},{"t":515,"v":6.98},{"t":518,"v":6.76},{"t":521,"v":6.76},{"t":523,"v":6.54},{"t":526,"v":6.43},{"t":529,"v":6.32},{"t":532,"v":6.43},{"t":535,"v":6.43},{"t":538,"v":6.32},{"t":541,"v":6.43},{"t":543,"v":6.11},{"t":545,"v":6.32},{"t":548,"v":6.43},{"t":551,"v":6.32},{"t":553,"v":6.65},{"t":556,"v":6.43},{"t":559,"v":6.65},{"t":562,"v":6.65},{"t":565,"v":6.43},{"t":568,"v":6.32},{"t":571,"v":6.11},{"t":573,"v":6.32},{"t":576,"v":6.43},{"t":579,"v":6.32},{"t":582,"v":6.22},{"t":585,"v":6.32},{"t":588,"v":6.43},{"t":591,"v":6.32},{"t":594,"v":6.43},{"t":596,"v":6.54},{"t":599,"v":6.65},{"t":602,"v":6.65},{"t":605,"v":6.76},{"t":608,"v":6.65},{"t":611,"v":6.65},{"t":614,"v":6.54},{"t":616,"v":6.54},{"t":619,"v":6.76},{"t":622,"v":6.65},{"t":625,"v":6.65},{"t":628,"v":6.54},{"t":631,"v":6.76},{"t":634,"v":6.87},{"t":636,"v":6.98},{"t":639,"v":7.20},{"t":642,"v":7.09},{"t":645,"v":7.31},{"t":648,"v":7.42},{"t":651,"v":7.53},{"t":654,"v":7.31},{"t":656,"v":7.64},{"t":659,"v":7.75},{"t":662,"v":7.86},{"t":665,"v":7.64},{"t":668,"v":7.86},{"t":671,"v":7.97},{"t":674,"v":8.08},{"t":675,"v":7.86},{"t":678,"v":7.53},{"t":679,"v":7.86},{"t":682,"v":8.12},{"t":685,"v":8.30},{"t":687,"v":8.40},{"t":688,"v":8.08},{"t":689,"v":8.51},{"t":692,"v":9.17},{"t":695,"v":9.28},{"t":698,"v":9.06},{"t":701,"v":8.73},{"t":702,"v":9.28},{"t":704,"v":9.61},{"t":705,"v":10.59},{"t":708,"v":10.81},{"t":711,"v":10.92},{"t":712,"v":10.70},{"t":714,"v":11.14},{"t":715,"v":11.25},{"t":717,"v":11.03},{"t":718,"v":10.70},{"t":719,"v":10.92},{"t":721,"v":11.69},{"t":724,"v":11.80},{"t":727,"v":11.91},{"t":728,"v":12.02},{"t":731,"v":11.36}]
},
"hconcat": [
 {"vconcat": [
  {"vconcat": [
   {"title": "T-P(mg/L) - 상류", "width": 421, "height": 244, "layer": [
    {"data": {"name": "tpUpObs"}, "mark": {"type": "line", "color": "#4a7ab8", "strokeWidth": 1.5},
     "encoding": {"x": {"field": "t", "type": "quantitative", "scale": {"domain": [366, 731], "nice": false, "zero": false}, "axis": {"title": "Time(days)", "values": [366,416,466,516,566,616,666,716], "format": "d"}},
                  "y": {"field": "v", "type": "quantitative", "scale": {"domain": [0, 0.14], "nice": false}, "axis": {"title": "Total Phosphorus(mg/L)", "values": [0,0.02,0.04,0.06,0.08,0.1,0.12,0.14], "format": "~g"}}}},
    {"data": {"name": "tpUpSim"}, "mark": {"type": "line", "color": "#ff0000", "strokeWidth": 2},
     "encoding": {"x": {"field": "t", "type": "quantitative", "scale": {"domain": [366, 731], "nice": false, "zero": false}, "axis": {"title": "Time(days)", "values": [366,416,466,516,566,616,666,716], "format": "d"}},
                  "y": {"field": "v", "type": "quantitative", "scale": {"domain": [0, 0.14], "nice": false}, "axis": {"title": "Total Phosphorus(mg/L)", "values": [0,0.02,0.04,0.06,0.08,0.1,0.12,0.14], "format": "~g"}}}},
    {"data": {"values": [{}]}, "mark": {"type": "rect", "fill": "white", "fillOpacity": 0, "stroke": "#cfcfcf", "strokeWidth": 1},
     "encoding": {"x": {"datum": 337.13, "type": "quantitative", "scale": {"domain": [366, 731], "nice": false, "zero": false}, "axis": {"title": "Time(days)", "values": [366,416,466,516,566,616,666,716], "format": "d"}}, "x2": {"datum": 740.28},
                  "y": {"datum": 0.1578, "type": "quantitative", "scale": {"domain": [0, 0.14], "nice": false}, "axis": {"title": "Total Phosphorus(mg/L)", "values": [0,0.02,0.04,0.06,0.08,0.1,0.12,0.14], "format": "~g"}}, "y2": {"datum": -0.01624}}}
   ]},
   {"title": "T-P(mg/L) - 중류", "width": 421, "height": 244, "layer": [
    {"data": {"name": "tpMidObs"}, "mark": {"type": "line", "color": "#4a7ab8", "strokeWidth": 1.5},
     "encoding": {"x": {"field": "t", "type": "quantitative", "scale": {"domain": [366, 731], "nice": false, "zero": false}, "axis": {"title": "Time(days)", "values": [366,416,466,516,566,616,666,716], "format": "d"}},
                  "y": {"field": "v", "type": "quantitative", "scale": {"domain": [0, 0.14], "nice": false}, "axis": {"title": "Total Phosphorus(mg/L)", "values": [0,0.02,0.04,0.06,0.08,0.1,0.12,0.14], "format": "~g"}}}},
    {"data": {"name": "tpMidSim"}, "mark": {"type": "line", "color": "#ff0000", "strokeWidth": 2},
     "encoding": {"x": {"field": "t", "type": "quantitative", "scale": {"domain": [366, 731], "nice": false, "zero": false}, "axis": {"title": "Time(days)", "values": [366,416,466,516,566,616,666,716], "format": "d"}},
                  "y": {"field": "v", "type": "quantitative", "scale": {"domain": [0, 0.14], "nice": false}, "axis": {"title": "Total Phosphorus(mg/L)", "values": [0,0.02,0.04,0.06,0.08,0.1,0.12,0.14], "format": "~g"}}}},
    {"data": {"values": [{}]}, "mark": {"type": "rect", "fill": "white", "fillOpacity": 0, "stroke": "#cfcfcf", "strokeWidth": 1},
     "encoding": {"x": {"datum": 337.13, "type": "quantitative", "scale": {"domain": [366, 731], "nice": false, "zero": false}, "axis": {"title": "Time(days)", "values": [366,416,466,516,566,616,666,716], "format": "d"}}, "x2": {"datum": 740.28},
                  "y": {"datum": 0.1578, "type": "quantitative", "scale": {"domain": [0, 0.14], "nice": false}, "axis": {"title": "Total Phosphorus(mg/L)", "values": [0,0.02,0.04,0.06,0.08,0.1,0.12,0.14], "format": "~g"}}, "y2": {"datum": -0.01624}}}
   ]}
  ], "spacing": 16},
  {"title": "T-P(mg/L) - 하류", "width": 421, "height": 233, "layer": [
    {"data": {"name": "tpDownObs"}, "mark": {"type": "line", "color": "#4a7ab8", "strokeWidth": 1.5},
     "encoding": {"x": {"field": "t", "type": "quantitative", "scale": {"domain": [366, 731], "nice": false, "zero": false}, "axis": {"title": "Time(days)", "values": [366,416,466,516,566,616,666,716], "format": "d"}},
                  "y": {"field": "v", "type": "quantitative", "scale": {"domain": [0, 0.14], "nice": false}, "axis": {"title": "Total Phosphorus(mg/L)", "values": [0,0.02,0.04,0.06,0.08,0.1,0.12,0.14], "format": "~g"}}}},
    {"data": {"name": "tpDownSim"}, "mark": {"type": "line", "color": "#ff0000", "strokeWidth": 2},
     "encoding": {"x": {"field": "t", "type": "quantitative", "scale": {"domain": [366, 731], "nice": false, "zero": false}, "axis": {"title": "Time(days)", "values": [366,416,466,516,566,616,666,716], "format": "d"}},
                  "y": {"field": "v", "type": "quantitative", "scale": {"domain": [0, 0.14], "nice": false}, "axis": {"title": "Total Phosphorus(mg/L)", "values": [0,0.02,0.04,0.06,0.08,0.1,0.12,0.14], "format": "~g"}}}},
    {"data": {"values": [{}]}, "mark": {"type": "rect", "fill": "white", "fillOpacity": 0, "stroke": "#cfcfcf", "strokeWidth": 1},
     "encoding": {"x": {"datum": 337.13, "type": "quantitative", "scale": {"domain": [366, 731], "nice": false, "zero": false}, "axis": {"title": "Time(days)", "values": [366,416,466,516,566,616,666,716], "format": "d"}}, "x2": {"datum": 740.28},
                  "y": {"datum": 0.159, "type": "quantitative", "scale": {"domain": [0, 0.14], "nice": false}, "axis": {"title": "Total Phosphorus(mg/L)", "values": [0,0.02,0.04,0.06,0.08,0.1,0.12,0.14], "format": "~g"}}, "y2": {"datum": -0.017}}}
  ]}
 ], "spacing": 20},
 {"vconcat": [
   {"title": "DO(mg/L) - 상류", "width": 425, "height": 244, "layer": [
    {"data": {"name": "doUpObs"}, "mark": {"type": "line", "color": "#4a7ab8", "strokeWidth": 1.5},
     "encoding": {"x": {"field": "t", "type": "quantitative", "scale": {"domain": [366, 731], "nice": false, "zero": false}, "axis": {"title": "Time(days)", "values": [366,416,466,516,566,616,666,716], "format": "d"}},
                  "y": {"field": "v", "type": "quantitative", "scale": {"domain": [0, 16], "nice": false}, "axis": {"title": "Dissolved Oxygen(mg/L)", "values": [0,2,4,6,8,10,12,14,16], "format": "d"}}}},
    {"data": {"name": "doUpSim"}, "mark": {"type": "line", "color": "#ff0000", "strokeWidth": 2},
     "encoding": {"x": {"field": "t", "type": "quantitative", "scale": {"domain": [366, 731], "nice": false, "zero": false}, "axis": {"title": "Time(days)", "values": [366,416,466,516,566,616,666,716], "format": "d"}},
                  "y": {"field": "v", "type": "quantitative", "scale": {"domain": [0, 16], "nice": false}, "axis": {"title": "Dissolved Oxygen(mg/L)", "values": [0,2,4,6,8,10,12,14,16], "format": "d"}}}},
    {"data": {"values": [{}]}, "mark": {"type": "rect", "fill": "white", "fillOpacity": 0, "stroke": "#cfcfcf", "strokeWidth": 1},
     "encoding": {"x": {"datum": 342.55, "type": "quantitative", "scale": {"domain": [366, 731], "nice": false, "zero": false}, "axis": {"title": "Time(days)", "values": [366,416,466,516,566,616,666,716], "format": "d"}}, "x2": {"datum": 741.05},
                  "y": {"datum": 18.033, "type": "quantitative", "scale": {"domain": [0, 16], "nice": false}, "axis": {"title": "Dissolved Oxygen(mg/L)", "values": [0,2,4,6,8,10,12,14,16], "format": "d"}}, "y2": {"datum": -1.856}}}
   ]},
   {"title": "DO(mg/L) - 중류", "width": 425, "height": 244, "layer": [
    {"data": {"name": "doMidObs"}, "mark": {"type": "line", "color": "#4a7ab8", "strokeWidth": 1.5},
     "encoding": {"x": {"field": "t", "type": "quantitative", "scale": {"domain": [366, 731], "nice": false, "zero": false}, "axis": {"title": "Time(days)", "values": [366,416,466,516,566,616,666,716], "format": "d"}},
                  "y": {"field": "v", "type": "quantitative", "scale": {"domain": [0, 16], "nice": false}, "axis": {"title": "Dissolved Oxygen(mg/L)", "values": [0,2,4,6,8,10,12,14,16], "format": "d"}}}},
    {"data": {"name": "doMidSim"}, "mark": {"type": "line", "color": "#ff0000", "strokeWidth": 2},
     "encoding": {"x": {"field": "t", "type": "quantitative", "scale": {"domain": [366, 731], "nice": false, "zero": false}, "axis": {"title": "Time(days)", "values": [366,416,466,516,566,616,666,716], "format": "d"}},
                  "y": {"field": "v", "type": "quantitative", "scale": {"domain": [0, 16], "nice": false}, "axis": {"title": "Dissolved Oxygen(mg/L)", "values": [0,2,4,6,8,10,12,14,16], "format": "d"}}}},
    {"data": {"values": [{}]}, "mark": {"type": "rect", "fill": "white", "fillOpacity": 0, "stroke": "#cfcfcf", "strokeWidth": 1},
     "encoding": {"x": {"datum": 342.55, "type": "quantitative", "scale": {"domain": [366, 731], "nice": false, "zero": false}, "axis": {"title": "Time(days)", "values": [366,416,466,516,566,616,666,716], "format": "d"}}, "x2": {"datum": 741.05},
                  "y": {"datum": 18.033, "type": "quantitative", "scale": {"domain": [0, 16], "nice": false}, "axis": {"title": "Dissolved Oxygen(mg/L)", "values": [0,2,4,6,8,10,12,14,16], "format": "d"}}, "y2": {"datum": -1.856}}}
   ]},
   {"title": "DO(mg/L) - 하류", "width": 425, "height": 244, "layer": [
    {"data": {"name": "doDownObs"}, "mark": {"type": "line", "color": "#4a7ab8", "strokeWidth": 1.5},
     "encoding": {"x": {"field": "t", "type": "quantitative", "scale": {"domain": [366, 731], "nice": false, "zero": false}, "axis": {"title": "Time(days)", "values": [366,416,466,516,566,616,666,716], "format": "d"}},
                  "y": {"field": "v", "type": "quantitative", "scale": {"domain": [0, 16], "nice": false}, "axis": {"title": "Dissolved Oxygen(mg/L)", "values": [0,2,4,6,8,10,12,14,16], "format": "d"}}}},
    {"data": {"name": "doDownSim"}, "mark": {"type": "line", "color": "#ff0000", "strokeWidth": 2},
     "encoding": {"x": {"field": "t", "type": "quantitative", "scale": {"domain": [366, 731], "nice": false, "zero": false}, "axis": {"title": "Time(days)", "values": [366,416,466,516,566,616,666,716], "format": "d"}},
                  "y": {"field": "v", "type": "quantitative", "scale": {"domain": [0, 16], "nice": false}, "axis": {"title": "Dissolved Oxygen(mg/L)", "values": [0,2,4,6,8,10,12,14,16], "format": "d"}}}},
    {"data": {"values": [{}]}, "mark": {"type": "rect", "fill": "white", "fillOpacity": 0, "stroke": "#cfcfcf", "strokeWidth": 1},
     "encoding": {"x": {"datum": 342.55, "type": "quantitative", "scale": {"domain": [366, 731], "nice": false, "zero": false}, "axis": {"title": "Time(days)", "values": [366,416,466,516,566,616,666,716], "format": "d"}}, "x2": {"datum": 741.05},
                  "y": {"datum": 18.033, "type": "quantitative", "scale": {"domain": [0, 16], "nice": false}, "axis": {"title": "Dissolved Oxygen(mg/L)", "values": [0,2,4,6,8,10,12,14,16], "format": "d"}}, "y2": {"datum": -1.856}}}
   ]}
 ], "spacing": 16}
],
"spacing": 24
}
